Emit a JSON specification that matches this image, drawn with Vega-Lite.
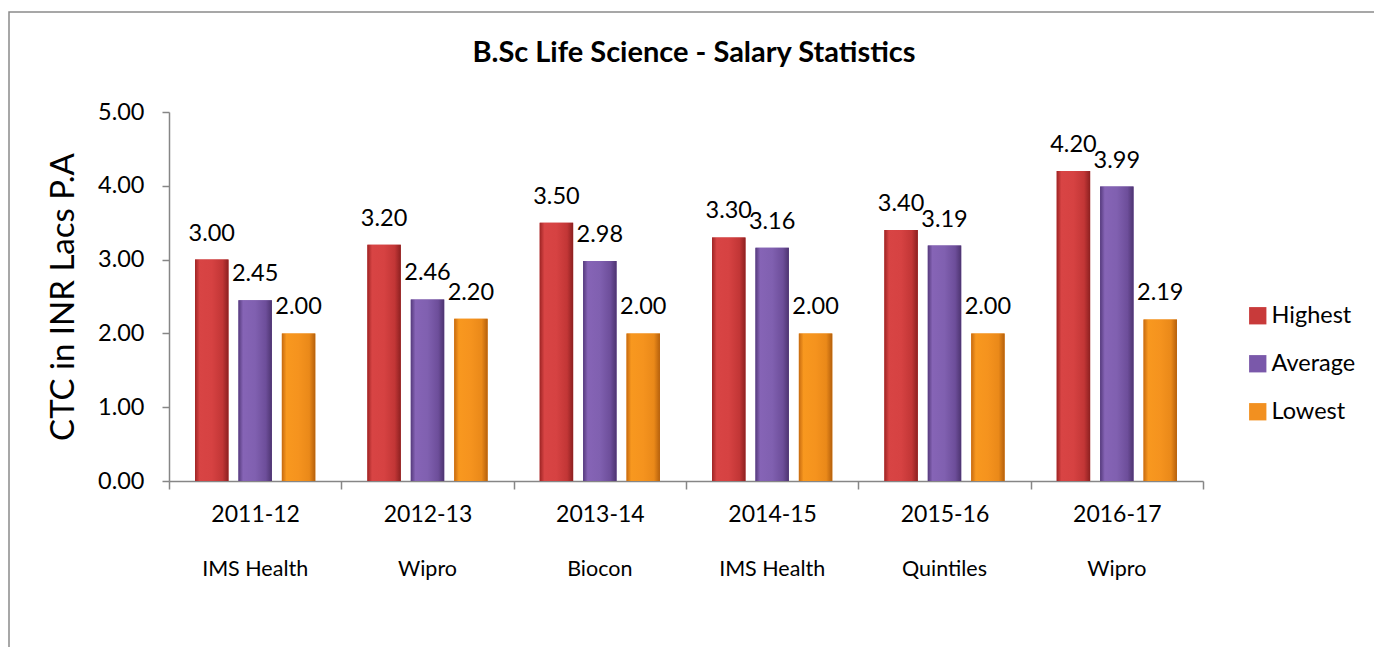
{
  "$schema": "https://vega.github.io/schema/vega-lite/v6.json",
  "autosize": {"type": "none"},
  "width": 1370,
  "height": 640,
  "padding": {"left": 9, "top": 12, "right": -5, "bottom": -5},
  "background": "white",
  "config": {
    "font": "Lato",
    "view": {"stroke": "#8a8a8a", "strokeWidth": 1.5}
  },
  "title": {
    "text": "B.Sc Life Science - Salary Statistics",
    "fontSize": 29,
    "fontWeight": "bold",
    "color": "black",
    "anchor": "middle",
    "offset": -56,
    "font": "Lato"
  },
  "datasets": {
    "salary": [
      {"year": "2011-12", "series": "Highest", "value": 3.00},
      {"year": "2011-12", "series": "Average", "value": 2.45},
      {"year": "2011-12", "series": "Lowest", "value": 2.00},
      {"year": "2012-13", "series": "Highest", "value": 3.20},
      {"year": "2012-13", "series": "Average", "value": 2.46},
      {"year": "2012-13", "series": "Lowest", "value": 2.20},
      {"year": "2013-14", "series": "Highest", "value": 3.50},
      {"year": "2013-14", "series": "Average", "value": 2.98},
      {"year": "2013-14", "series": "Lowest", "value": 2.00},
      {"year": "2014-15", "series": "Highest", "value": 3.30},
      {"year": "2014-15", "series": "Average", "value": 3.16},
      {"year": "2014-15", "series": "Lowest", "value": 2.00},
      {"year": "2015-16", "series": "Highest", "value": 3.40},
      {"year": "2015-16", "series": "Average", "value": 3.19},
      {"year": "2015-16", "series": "Lowest", "value": 2.00},
      {"year": "2016-17", "series": "Highest", "value": 4.20},
      {"year": "2016-17", "series": "Average", "value": 3.99},
      {"year": "2016-17", "series": "Lowest", "value": 2.19}
    ],
    "companies": [
      {"year": "2011-12", "company": "IMS Health"},
      {"year": "2012-13", "company": "Wipro"},
      {"year": "2013-14", "company": "Biocon"},
      {"year": "2014-15", "company": "IMS Health"},
      {"year": "2015-16", "company": "Quintiles"},
      {"year": "2016-17", "company": "Wipro"}
    ]
  },
  "encoding": {
    "x": {
      "field": "year",
      "type": "nominal",
      "sort": null,
      "scale": {"range": [160, 1194], "paddingInner": 0, "paddingOuter": 0},
      "axis": {
        "title": null,
        "orient": "bottom",
        "offset": -171,
        "tickBand": "extent",
        "labelAngle": 0,
        "labelFontSize": 23,
        "labelColor": "black",
        "labelPadding": 14,
        "tickSize": 8,
        "tickColor": "#868686",
        "domainColor": "#868686",
        "tickWidth": 1.5,
        "domainWidth": 1.5,
        "grid": false
      }
    }
  },
  "layer": [
    {
      "data": {"name": "salary"},
      "mark": {"type": "bar"},
      "encoding": {
        "xOffset": {
          "field": "series",
          "type": "nominal",
          "sort": ["Highest", "Average", "Lowest"],
          "scale": {"paddingInner": 0.23, "paddingOuter": 0.6}
        },
        "y": {
          "field": "value",
          "type": "quantitative",
          "scale": {"domain": [0, 5], "range": [469, 100], "nice": false, "zero": true},
          "axis": {
            "values": [0, 1, 2, 3, 4, 5],
            "format": ".2f",
            "offset": -160,
            "title": "CTC in INR Lacs P.A",
            "titleFontSize": 33,
            "titleFontWeight": "normal",
            "titleColor": "black",
            "titlePadding": 17,
            "labelFontSize": 23.5,
            "labelColor": "black",
            "labelPadding": 18,
            "tickSize": 7,
            "tickColor": "#868686",
            "domainColor": "#868686",
            "tickWidth": 1.5,
            "domainWidth": 1.5,
            "grid": false
          }
        },
        "color": {
          "field": "series",
          "type": "nominal",
          "sort": ["Highest", "Average", "Lowest"],
          "scale": {"domain": ["Highest", "Average", "Lowest"], "range": ["#C83A3A", "#7A58AA", "#F29020"]},
          "legend": {
            "orient": "none",
            "legendX": 1237,
            "legendY": 292,
            "title": null,
            "symbolType": "square",
            "symbolSize": 300,
            "symbolStrokeWidth": 0,
            "labelFontSize": 23.5,
            "labelColor": "black",
            "labelOffset": 2,
            "rowPadding": 23,
            "padding": 0
          }
        }
      }
    },
    {
      "data": {"name": "salary"},
      "mark": {"type": "bar"},
      "encoding": {
        "xOffset": {"field": "series", "type": "nominal", "sort": ["Highest", "Average", "Lowest"]},
        "y": {"field": "value", "type": "quantitative"},
        "fill": {
          "condition": [
            {"test": "datum.series === 'Highest'", "value": {"gradient": "linear", "x1": 0, "y1": 0, "x2": 1, "y2": 0, "stops": [
              {"offset": 0, "color": "#9E2424"}, {"offset": 0.14, "color": "#D84444"}, {"offset": 0.5, "color": "#D64242"}, {"offset": 0.82, "color": "#C23636"}, {"offset": 1, "color": "#8C2020"}]}},
            {"test": "datum.series === 'Average'", "value": {"gradient": "linear", "x1": 0, "y1": 0, "x2": 1, "y2": 0, "stops": [
              {"offset": 0, "color": "#553A7C"}, {"offset": 0.14, "color": "#8664B6"}, {"offset": 0.5, "color": "#8060B0"}, {"offset": 0.82, "color": "#6D4E9A"}, {"offset": 1, "color": "#4D3470"}]}}
          ],
          "value": {"gradient": "linear", "x1": 0, "y1": 0, "x2": 1, "y2": 0, "stops": [
            {"offset": 0, "color": "#C66A10"}, {"offset": 0.14, "color": "#F8981F"}, {"offset": 0.5, "color": "#F5931E"}, {"offset": 0.82, "color": "#EA8919"}, {"offset": 1, "color": "#B5600C"}]}
        }
      }
    },
    {
      "data": {"name": "salary"},
      "mark": {"type": "text", "baseline": "alphabetic", "dy": -19, "fontSize": 23.5, "color": "black"},
      "encoding": {
        "xOffset": {"field": "series", "type": "nominal", "sort": ["Highest", "Average", "Lowest"]},
        "y": {"field": "value", "type": "quantitative"},
        "text": {"field": "value", "type": "quantitative", "format": ".2f"}
      }
    },
    {
      "data": {"name": "companies"},
      "mark": {"type": "text", "baseline": "middle", "fontSize": 21.5, "color": "black"},
      "encoding": {
        "y": {"datum": -1.2, "type": "quantitative"},
        "text": {"field": "company", "type": "nominal"}
      }
    }
  ]
}
